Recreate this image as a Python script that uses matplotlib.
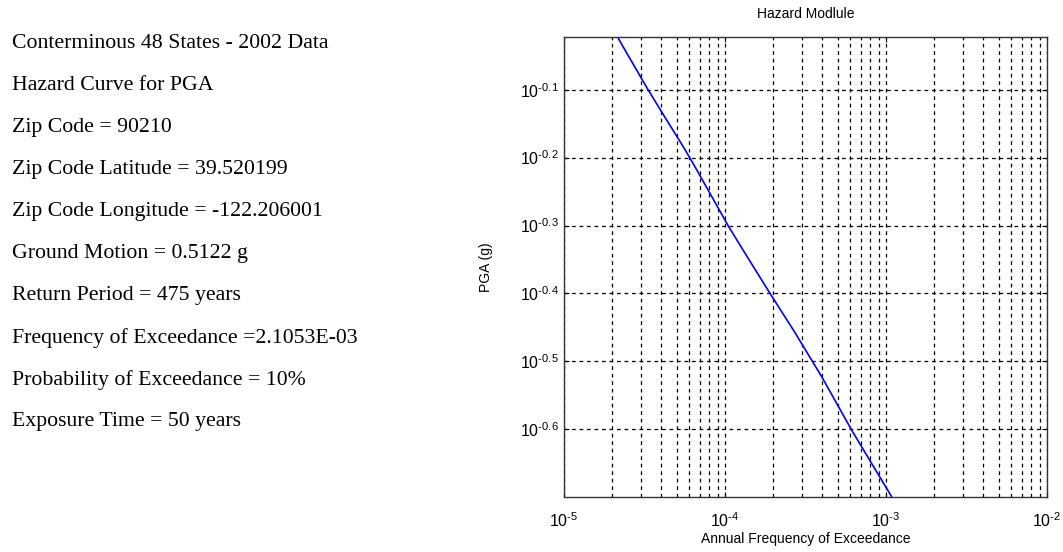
import matplotlib.pyplot as plt
import numpy as np
from matplotlib.ticker import FixedLocator, FuncFormatter, LogLocator, NullFormatter

plt.rcParams['font.family'] = ['Liberation Sans', 'DejaVu Sans']
plt.rcParams['mathtext.fontset'] = 'custom'
plt.rcParams['mathtext.rm'] = 'Liberation Sans'
plt.rcParams['mathtext.it'] = 'Liberation Sans:italic'
plt.rcParams['mathtext.bf'] = 'Liberation Sans:bold'

# hazard curve
pga = [0.95, 0.90, 0.85, 0.80, 0.75, 0.70, 0.65, 0.60, 0.55, 0.50,
       0.45, 0.40, 0.35, 0.30, 0.25, 0.20]
freq = [2.15e-5, 2.45e-5, 2.82e-5, 3.27e-5, 3.86e-5, 4.62e-5, 5.61e-5,
        6.82e-5, 8.38e-5, 1.05e-4, 1.38e-4, 1.88e-4, 2.69e-4, 3.99e-4,
        6.14e-4, 1.08e-3]

y_exponents = [-0.1, -0.2, -0.3, -0.4, -0.5, -0.6]

info_lines = [
    "Conterminous 48 States - 2002 Data",
    "Hazard Curve for PGA",
    "Zip Code = 90210",
    "Zip Code Latitude = 39.520199",
    "Zip Code Longitude = -122.206001",
    "Ground Motion = 0.5122 g",
    "Return Period = 475 years",
    "Frequency of Exceedance =2.1053E-03",
    "Probability of Exceedance = 10%",
    "Exposure Time = 50 years",
]

fig = plt.figure(figsize=(10.63, 5.52), dpi=100)

for i, line in enumerate(info_lines):
    fig.text(12 / 1063, 1 - (43 + i * 42.1) / 552, line,
             family='Liberation Serif', fontsize=15.7, va='center', ha='left')

ax = fig.add_axes([564 / 1063, 1 - 497 / 552, 483 / 1063, 460 / 552])
ax.plot(freq, pga, color='#0000ff', linewidth=1.2)
ax.set_xscale('log')
ax.set_yscale('log')
ax.set_xlim(1e-5, 1e-2)
ax.set_ylim(10 ** -0.7, 0.95)

ax.xaxis.set_major_locator(LogLocator(base=10, numticks=10))
ax.xaxis.set_minor_locator(LogLocator(base=10, subs=np.arange(2, 10), numticks=20))
ax.xaxis.set_minor_formatter(NullFormatter())
ax.xaxis.set_major_formatter(FuncFormatter(
    lambda v, p: r'$\mathregular{10^{\text{%d}}}$' % round(np.log10(v))))
ax.yaxis.set_major_locator(FixedLocator([10 ** e for e in y_exponents]))
ax.yaxis.set_minor_locator(FixedLocator([]))
ax.yaxis.set_major_formatter(FuncFormatter(
    lambda v, p: r'$\mathregular{10^{\text{%.1f}}}$' % np.log10(v)))

ax.grid(True, which='major', color='black', linestyle=(0, (3, 3)), linewidth=0.9)
ax.grid(True, which='minor', axis='x', color='black', linestyle=(0, (3, 3)), linewidth=0.9)

ax.tick_params(which='both', direction='in', top=True, right=True, labelsize=11.5)
ax.tick_params(axis='x', pad=10)
for s in ax.spines.values():
    s.set_color('#333333')
    s.set_linewidth(1.0)

ax.set_title('Hazard Modlule', fontsize=10, pad=14)
ax.set_xlabel('Annual Frequency of Exceedance', fontsize=10, labelpad=2)
ax.set_ylabel('PGA (g)', fontsize=10, labelpad=20)

fig.savefig('out.png', dpi=100)
